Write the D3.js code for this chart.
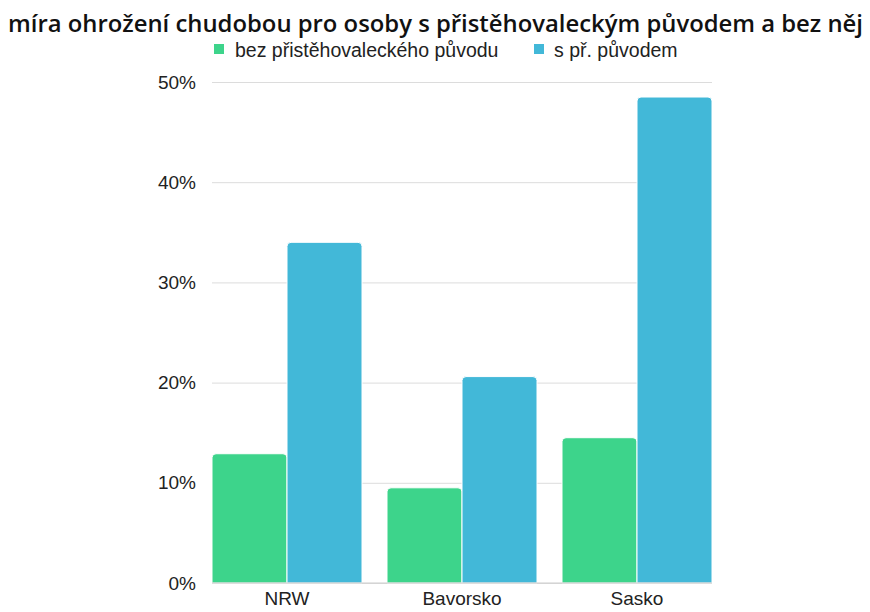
<!DOCTYPE html>
<html><head><meta charset="utf-8">
<script src="https://cdn.jsdelivr.net/npm/d3@7"></script>
<style>body{margin:0;background:#fff}</style>
</head><body>
<svg id="c" width="870" height="612"></svg>
<script>
const categories = ["NRW", "Bavorsko", "Sasko"];
const seriesNames = ["bez přistěhovaleckého původu", "s př. původem"];
const bezValues = [12.9, 9.5, 14.5];
const sValues = [34.0, 20.6, 48.5];
const yTicks = [0, 10, 20, 30, 40, 50];
const colors = ["#3dd48b", "#42b8d8"];

const svg = d3.select("#c");
const m = {left: 212, right: 158, top: 82, bottom: 29};
const W = 870, H = 612;
const x0 = d3.scaleBand().domain(categories).range([m.left, W - m.right]).paddingInner(25/175).paddingOuter(0);
const x1 = d3.scaleBand().domain([0, 1]).range([0, x0.bandwidth()]);
const y = d3.scaleLinear().domain([0, 50]).range([H - m.bottom, m.top]);

svg.append("text").attr("x", 8).attr("y", 32)
  .attr("font-family", "Open Sans").attr("font-weight", 600).attr("font-size", 23).attr("fill", "#111")
  .attr("textLength", 855).attr("lengthAdjust", "spacingAndGlyphs")
  .text("míra ohrožení chudobou pro osoby s přistěhovaleckým původem a bez něj");

// grid
const ga = svg.append("g").attr("transform", `translate(${m.left},0)`)
  .call(d3.axisLeft(y).tickValues(yTicks).tickSize(-(W - m.left - m.right)).tickFormat(d => d + "%").tickPadding(16));
ga.select(".domain").remove();
ga.selectAll(".tick line").attr("stroke", "#dcdcdc").attr("stroke-width", 1);
ga.selectAll(".tick text").attr("font-family", "Liberation Sans, Arial").attr("font-size", 19).attr("fill", "#222");

function topRounded(x, yTop, w, h, r) {
  r = Math.min(r, h);
  return `M${x},${yTop + h}V${yTop + r}Q${x},${yTop} ${x + r},${yTop}H${x + w - r}Q${x + w},${yTop} ${x + w},${yTop + r}V${yTop + h}Z`;
}
const data = categories.map((c, i) => ({c, vals: [bezValues[i], sValues[i]]}));
const g = svg.append("g");
data.forEach(d => {
  d.vals.forEach((v, j) => {
    const bx = x0(d.c) + x1(j), bw = x1.bandwidth();
    g.append("path").attr("d", topRounded(bx, y(v), bw, y(0) - y(v), 4))
      .attr("fill", colors[j]).attr("stroke", "#fff").attr("stroke-width", 1);
  });
});
// baseline
svg.append("line").attr("x1", m.left).attr("x2", W - m.right).attr("y1", y(0)).attr("y2", y(0)).attr("stroke", "#ccc");

const xa = svg.append("g").attr("transform", `translate(0,${y(0)})`).call(d3.axisBottom(x0).tickSize(0).tickPadding(9));
xa.select(".domain").remove();
xa.selectAll(".tick text").attr("font-family", "Liberation Sans, Arial").attr("font-size", 19).attr("fill", "#222");

// legend
const leg = [{x: 214, tx: 235}, {x: 534, tx: 554}];
seriesNames.forEach((n, i) => {
  svg.append("rect").attr("x", leg[i].x).attr("y", 44).attr("width", 10).attr("height", 10).attr("fill", colors[i]);
  svg.append("text").attr("x", leg[i].tx).attr("y", 57).attr("font-family", "Liberation Sans, Arial")
    .attr("font-size", 19.5).attr("fill", "#222").text(n);
});
</script>
</body></html>
